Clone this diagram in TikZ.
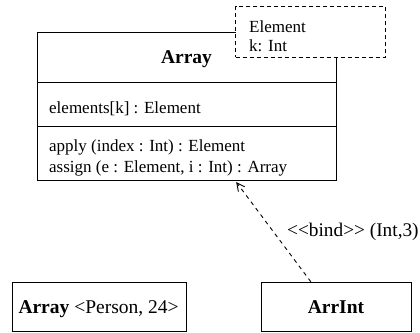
\documentclass[tikz,border=0pt]{standalone}
\usepackage{fontspec}
\setmainfont{Liberation Serif}
\usetikzlibrary{arrows.meta,calc}

\tikzset{
  box/.style={draw, line width=1pt, inner sep=0pt, fill=white},
  tmplbox/.style={draw, line width=1pt, dash pattern=on 4pt off 3pt, fill=white, inner sep=0pt},
  bodytext/.style={font=\fontsize{17}{20}\selectfont, inner sep=0pt},
  nametext/.style={font=\fontsize{19.5}{22}\selectfont\bfseries, inner sep=0pt},
  labeltext/.style={font=\fontsize{19.3}{22}\selectfont, inner sep=0pt},
  bindarrow/.style={line width=0.9pt, dash pattern=on 4pt off 4pt,
    -{Straight Barb[length=8pt,width=8pt,line width=0.9pt]}}
}

\begin{document}
\begin{tikzpicture}[x=1pt,y=-1pt]
\useasboundingbox (0,0) rectangle (420,332);

% class Array with its three compartments
\node[box, minimum width=299pt, minimum height=148pt] (arr) at (186.5,106) {};
\coordinate (sepA) at (37,82);
\coordinate (sepB) at (37,126);
\draw[line width=1pt] (sepA) -- (sepA -| arr.east);
\draw[line width=1pt] (sepB) -- (sepB -| arr.east);
\node[nametext, anchor=base] (arrname) at (186.5,63) {Array};
\node[bodytext, anchor=base west] (attr) at (49,113.3) {elements[k] : Element};
\node[bodytext, anchor=base west] (op1) at (49,151.7) {apply (index : Int) : Element};
\node[bodytext, anchor=base west] (op2) at (49,172.3) {assign (e : Element, i : Int) : Array};

% template parameters
\node[tmplbox, minimum width=150pt, minimum height=50.6pt] (tmpl) at (310.7,32) {};
\node[bodytext, anchor=base west] (tp1) at (249,32.3) {Element};
\node[bodytext, anchor=base west] (tp2) at (249,51.7) {k: Int};

% bound classes
\node[box, minimum width=174pt, minimum height=49.2pt] (bound) at (99,306.9) {};
\node[anchor=base west, inner sep=0pt] (boundtext) at (18.3,313.3)
  {\fontsize{19.5}{22}\selectfont\textbf{Array} {<}Person, 24{>}};
\node[box, minimum width=150pt, minimum height=49.2pt] (arrint) at (336.7,306.9) {};
\node[nametext, anchor=base] (arrintname) at (336,313.3) {ArrInt};

% binding dependency
\draw[bindarrow] ($(arrint.north west)!0.329!(arrint.north east)$)
  -- ($(arr.south west)!0.6656!(arr.south east)+(0,1.5)$);
\node[labeltext, anchor=base west] (bindlabel) at (287,236.7) {{<}{<}bind{>}{>} (Int,3)};
\end{tikzpicture}
\end{document}
